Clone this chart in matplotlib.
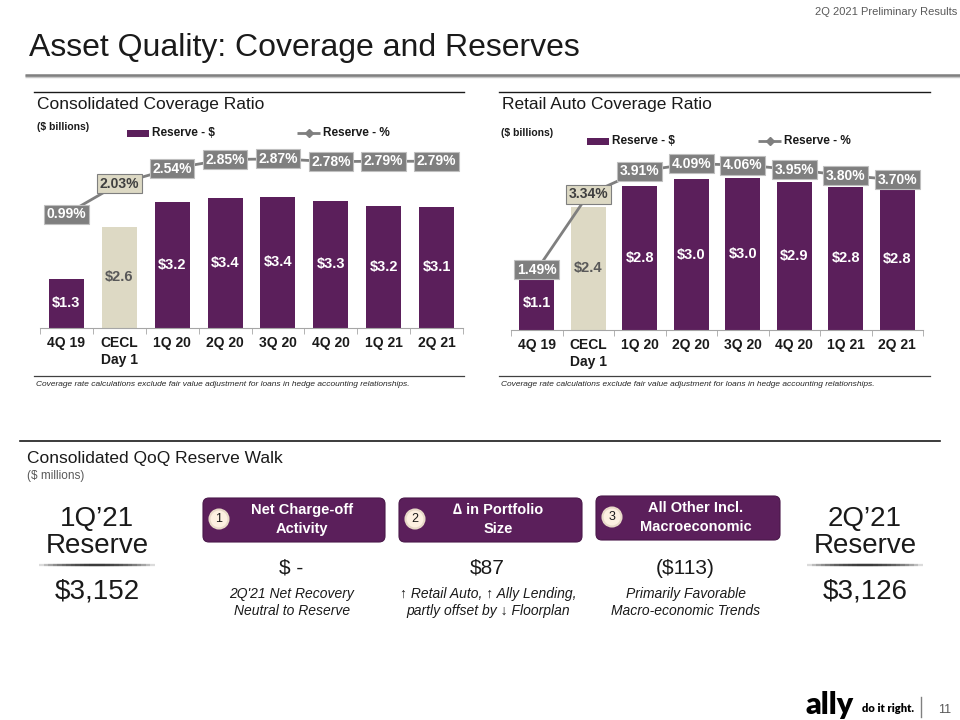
import numpy as np
import matplotlib
matplotlib.use("Agg")
import matplotlib.pyplot as plt
from matplotlib.patches import Rectangle, FancyBboxPatch, Circle

plt.rcParams['font.family'] = ['Liberation Sans', 'DejaVu Sans']

# data
quarters = ['4Q 19', 'CECL\nDay 1', '1Q 20', '2Q 20', '3Q 20', '4Q 20', '1Q 21', '2Q 21']
cons_reserve = [1.27, 2.61, 3.24, 3.36, 3.38, 3.28, 3.152, 3.126]   # $ billions
cons_pct = [0.99, 2.03, 2.54, 2.85, 2.87, 2.78, 2.79, 2.79]
auto_reserve = [1.06, 2.44, 2.84, 2.98, 3.01, 2.92, 2.83, 2.82]
auto_pct = [1.49, 3.34, 3.91, 4.09, 4.06, 3.95, 3.80, 3.70]

walk_start = 3152   # $ millions
walk_end = 3126
walk_steps = ['Net Charge-off\nActivity', '\u2206 in Portfolio\nSize', 'All Other Incl.\nMacroeconomic']
walk_values = ['$ -', '$87', '($113)']
walk_notes = ["2Q'21 Net Recovery\nNeutral to Reserve",
              "\u2191 Retail Auto, \u2191 Ally Lending,\npartly offset by \u2193 Floorplan",
              "Primarily Favorable\nMacro-economic Trends"]

purple = '#5B1F5B'
cream = '#DDD9C4'
grey = '#7F7F7F'
dark = '#1A1A1A'
W, H = 960, 720

fig = plt.figure(figsize=(9.6, 7.2), dpi=100)

# full-size overlay in pixel units for the slide furniture
bg = fig.add_axes([0, 0, 1, 1])
bg.set_xlim(0, W)
bg.set_ylim(H, 0)
bg.axis('off')
bg.patch.set_alpha(0)


def px_box(x0, x1, ytop, ybot):
    return [x0 / W, 1 - ybot / H, (x1 - x0) / W, (ybot - ytop) / H]


def chart(box, reserve, pct, top1, lim2, bar_w):
    ax = fig.add_axes(box)
    x = np.arange(len(quarters))
    colors = [cream if i == 1 else purple for i in x]
    ax.bar(x, reserve, width=bar_w, color=colors, zorder=2)
    for i, v in enumerate(reserve):
        ax.text(i, v / 2, f'${v:.1f}', ha='center', va='center', fontsize=10.5,
                fontweight='bold', color='#595959' if i == 1 else 'white', zorder=3)
    ax.set_xlim(-0.5, len(quarters) - 0.5)
    ax.set_ylim(0, top1)
    ax.set_xticks(x)
    ax.set_xticklabels(quarters, fontsize=10, fontweight='bold', color=dark)
    ax.set_xticks(np.arange(-0.5, len(quarters), 1), minor=True)
    ax.tick_params(axis='x', which='major', length=0, pad=6)
    ax.tick_params(axis='x', which='minor', length=4, color='#A6A6A6')
    ax.set_yticks([])
    for s in ['top', 'left', 'right']:
        ax.spines[s].set_visible(False)
    ax.spines['bottom'].set_color('#A6A6A6')
    ax.patch.set_alpha(0)

    ax2 = ax.twinx()
    ax2.set_ylim(*lim2)
    ax2.axis('off')
    ax2.plot(x, pct, color=grey, lw=2, marker='D', ms=4, zorder=2)
    for i, p in enumerate(pct):
        if i == 1:
            fc, ec, tc = cream, grey, '#404040'
        else:
            fc, ec, tc = grey, '#BFBFBF', 'white'
        ax2.text(i, p, f'{p:.2f}%', ha='center', va='center', fontsize=10,
                 fontweight='bold', color=tc, zorder=4,
                 bbox=dict(boxstyle='square,pad=0.18', fc=fc, ec=ec, lw=0.8))
    return ax


chart(px_box(40, 463, 145, 328), cons_reserve, cons_pct, 4.72, (-2.90, 3.345), 0.66)
chart(px_box(511, 923, 145, 330), auto_reserve, auto_pct, 3.66, (0.02, 4.55), 0.68)

# header
fig.text(957 / W, 1 - 12 / H, '2Q 2021 Preliminary Results', ha='right', va='center',
         fontsize=8, color='#595959')
bg.text(29, 48, 'Asset Quality: Coverage and Reserves', ha='left', va='center',
        fontsize=23, color=dark)
bg.plot([25, 960], [76, 76], color='#C8C8C8', lw=2.5, solid_capstyle='butt')
bg.plot([25, 960], [74.5, 74.5], color='#808080', lw=1.8, solid_capstyle='butt')

# section frames
for x0, x1 in [(34, 464), (499, 930)]:
    bg.plot([x0, x1], [92, 92], color=dark, lw=1)
    bg.plot([x0, x1], [376, 376], color='#404040', lw=0.9)
    bg.text(x0 + 2, 384, 'Coverage rate calculations exclude fair value adjustment '
            'for loans in hedge accounting relationships.', ha='left', va='center',
            fontsize=6, fontstyle='italic', color='#262626')

bg.text(37, 105, 'Consolidated Coverage Ratio', ha='left', va='center', fontsize=12.5, color=dark)
bg.text(502, 105, 'Retail Auto Coverage Ratio', ha='left', va='center', fontsize=12.5, color=dark)
bg.text(37, 127, '($ billions)', ha='left', va='center', fontsize=7.5, fontweight='bold', color=dark)
bg.text(501, 133, '($ billions)', ha='left', va='center', fontsize=7.5, fontweight='bold', color=dark)

# legends
for bx, lx, ly in [(127, 297, 133), (587, 758, 141)]:
    bg.add_patch(Rectangle((bx, ly - 3.5), 22, 7, fc=purple, ec='none'))
    bg.text(bx + 25, ly, 'Reserve - $', ha='left', va='center', fontsize=8.5,
            fontweight='bold', color=dark)
    bg.plot([lx, lx + 23], [ly, ly], color=grey, lw=2, solid_capstyle='butt')
    bg.plot([lx + 11.5], [ly], color=grey, marker='D', ms=4)
    bg.text(lx + 26, ly, 'Reserve - %', ha='left', va='center', fontsize=8.5,
            fontweight='bold', color=dark)

# reserve walk
bg.plot([20, 940], [441, 441], color=dark, lw=1.2)
bg.text(27, 458, 'Consolidated QoQ Reserve Walk', ha='left', va='center', fontsize=12.5, color=dark)
bg.text(27, 476, '($ millions)', ha='left', va='center', fontsize=8.5, color='#595959')

for cx, q, v in [(97, "1Q\u201921", walk_start), (865, "2Q\u201921", walk_end)]:
    bg.text(cx, 519, q, ha='center', va='center', fontsize=20, color=dark)
    bg.text(cx, 546, 'Reserve', ha='center', va='center', fontsize=20, color=dark)
    for half in np.linspace(58, 8, 12):
        bg.plot([cx - half, cx + half], [565, 565], color='#222222', lw=1.6, alpha=0.16,
                solid_capstyle='butt')
    bg.text(cx, 591, f'${v:,}', ha='center', va='center', fontsize=20, color=dark)

box_x = [(203, 385, 498), (399, 582, 498), (596, 780, 496)]
for k, ((x0, x1, yt), step, val, note) in enumerate(zip(box_x, walk_steps, walk_values, walk_notes)):
    bg.add_patch(FancyBboxPatch((x0, yt), x1 - x0, 44, boxstyle='round,pad=0,rounding_size=6',
                                fc=purple, ec='#4A184A', lw=0.8))
    bg.add_patch(Circle((x0 + 16, yt + 21), 9.5, fc='#FDF0E1', ec='#E8D9C8', lw=1.5, zorder=3))
    bg.text(x0 + 16, yt + 21, str(k + 1), ha='center', va='center', fontsize=9, color=dark, zorder=4)
    tc = (x0 + x1) / 2 + 8
    for j, line in enumerate(step.split('\n')):
        bg.text(tc, yt + 12 + j * 19, line, ha='center', va='center', fontsize=10.5,
                fontweight='bold', color='white')
    cx = (x0 + x1) / 2
    bg.text(cx - 3, 568, val, ha='center', va='center', fontsize=15, color=dark)
    for j, line in enumerate(note.split('\n')):
        bg.text(cx - 2, 594 + j * 17, line, ha='center', va='center', fontsize=10,
                fontstyle='italic', color=dark)

# footer
bg.text(805, 705, 'ally', ha='left', va='center', fontsize=22, fontweight='heavy',
        family=['Lato', 'Liberation Sans'], color='black')
bg.text(862, 708, 'do it right.', ha='left', va='center', fontsize=8, fontweight='heavy',
        family=['Lato', 'Liberation Sans'], color='black')
bg.plot([921, 921], [697, 717], color='#808080', lw=1)
bg.text(945, 710, '11', ha='center', va='center', fontsize=9, color='#595959')

fig.savefig('out.png', dpi=100)
